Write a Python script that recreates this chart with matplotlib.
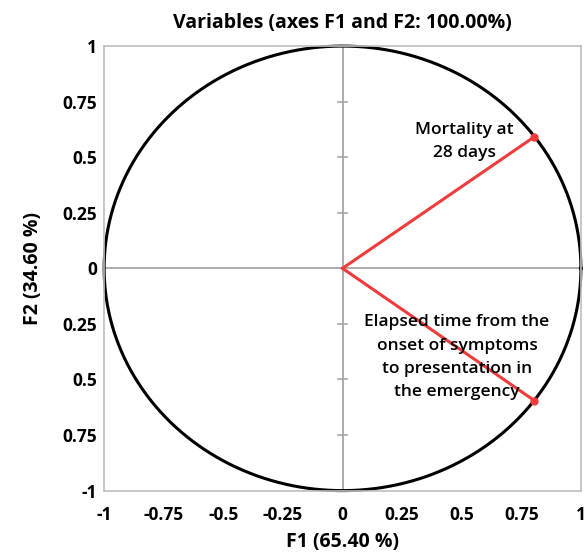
import numpy as np
import matplotlib
matplotlib.use("Agg")
import matplotlib.pyplot as plt

plt.rcParams['font.family'] = ['Open Sans', 'DejaVu Sans']

variables = ["Mortality at\n28 days",
             "Elapsed time from the\nonset of symptoms\nto presentation in\nthe emergency"]
f1 = [0.805, 0.805]
f2 = [0.592, -0.595]
label_pos = [(0.51, 0.57), (0.48, -0.40)]

tick_vals = [-1, -0.75, -0.5, -0.25, 0, 0.25, 0.5, 0.75, 1]
x_tick_labels = ["-1", "-0.75", "-0.5", "-0.25", "0", "0.25", "0.5", "0.75", "1"]
y_tick_labels = ["-1", "0.75", "0.5", "0.25", "0", "0.25", "0.5", "0.75", "1"]

fig = plt.figure(figsize=(5.85, 5.55), dpi=100)
ax = fig.add_axes([0.178, 0.116, 0.815, 0.801])
ax.set_xlim(-1, 1)
ax.set_ylim(-1, 1)

for s in ax.spines.values():
    s.set_color('#bfbfbf')
    s.set_linewidth(1.2)

# center axes
ax.axhline(0, color='#a6a6a6', lw=1.3, zorder=1)
ax.axvline(0, color='#a6a6a6', lw=1.3, zorder=1)
# inner ticks on vertical axis
for v in tick_vals:
    if v in (-1, 0, 1):
        continue
    ax.plot([-0.02, 0.02], [v, v], color='#a6a6a6', lw=1.2, zorder=1)

# circle
t = np.linspace(0, 2 * np.pi, 400)
ax.plot(np.cos(t), np.sin(t), color='black', lw=2.2, zorder=2, clip_on=False)

# vectors
for x, y in zip(f1, f2):
    ax.plot([0, x], [0, y], color='#f03c3c', lw=2.2, zorder=3)
    ax.plot([x], [y], 'o', color='#f03c3c', ms=5, zorder=4)

for name, (lx, ly) in zip(variables, label_pos):
    ax.text(lx, ly, name, ha='center', va='center', fontsize=12.5,
            fontweight='semibold', color='black', linespacing=1.6, zorder=5)

ax.set_xticks(tick_vals)
ax.set_xticklabels(x_tick_labels)
ax.set_yticks(tick_vals)
ax.set_yticklabels(y_tick_labels)
ax.tick_params(length=0, labelsize=12.5)
ax.tick_params(axis='y', pad=5)
ax.tick_params(axis='x', pad=11)
for lab in ax.get_xticklabels() + ax.get_yticklabels():
    lab.set_fontweight('bold')

ax.set_xlabel("F1 (65.40 %)", fontsize=14, fontweight='bold', labelpad=6)
ax.set_ylabel("F2 (34.60 %)", fontsize=14, fontweight='bold', labelpad=14)
ax.set_title("Variables (axes F1 and F2: 100.00%)", fontsize=14,
             fontweight='bold', pad=13)

fig.savefig("out.png", dpi=100)
